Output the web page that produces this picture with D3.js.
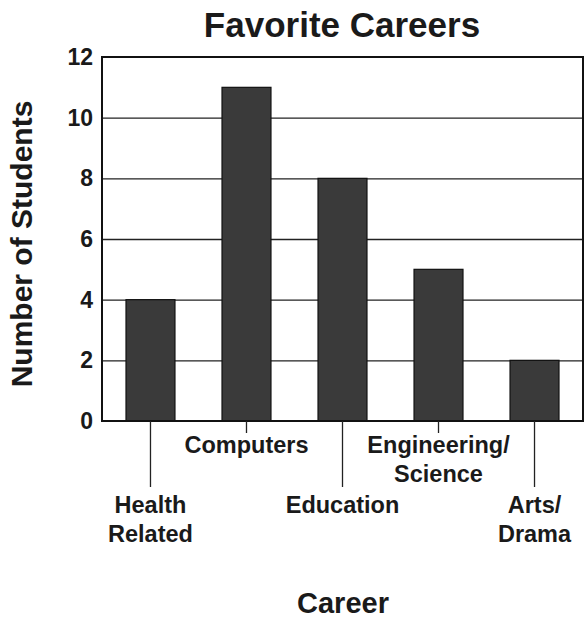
<!DOCTYPE html>
<html>
<head>
<meta charset="utf-8">
<script src="https://cdn.jsdelivr.net/npm/d3@7"></script>
<style>
  body { margin: 0; background: #fff; }
  svg text { font-family: "Liberation Sans", Arial, sans-serif; font-weight: bold; fill: #1a1a1a; }
</style>
</head>
<body>
<div id="chart"></div>
<script>
// values
const careers = ['Health Related', 'Computers', 'Education', 'Engineering/Science', 'Arts/Drama']
const careerLines = [['Health', 'Related'], ['Computers'], ['Education'], ['Engineering/', 'Science'], ['Arts/', 'Drama']]
const students = [4, 11, 8, 5, 2]
const yTicks = [0, 2, 4, 6, 8, 10, 12]

const margin = { top: 57, bottom: 198, right: 1, left: 102 }
const width = 584 - margin.left - margin.right
const height = 619 - margin.top - margin.bottom

const svg = d3.select('#chart').append('svg')
    .attr('width', 584)
    .attr('height', 619)

svg.append('text')
    .attr('x', 342)
    .attr('y', 37)
    .attr('text-anchor', 'middle')
    .style('font-size', '35px')
    .text('Favorite Careers')

svg.append('text')
    .attr('transform', 'translate(32, 244) rotate(-90)')
    .attr('text-anchor', 'middle')
    .style('font-size', '30px')
    .text('Number of Students')

svg.append('text')
    .attr('x', 343)
    .attr('y', 613)
    .attr('text-anchor', 'middle')
    .style('font-size', '29px')
    .text('Career')

const g = svg.append('g')
    .attr('transform', `translate(${margin.left}, ${margin.top})`)

const x = d3.scaleBand()
    .domain(careers)
    .range([0, width])
    .paddingInner(0.49)
    .paddingOuter(0.25)

const y = d3.scaleLinear()
    .domain([0, 12])
    .range([height, 0])

// grid lines
g.append('g')
    .call(d3.axisLeft(y).tickValues(yTicks.slice(1, -1)).tickSize(-width).tickFormat(''))
    .call(a => a.select('.domain').remove())
    .selectAll('line')
        .attr('stroke', '#222')
        .attr('stroke-width', 1.4)

// bars
g.selectAll('rect.bar').data(careers)
  .enter()
    .append('rect')
        .attr('class', 'bar')
        .attr('x', d => x(d))
        .attr('y', (d, i) => y(students[i]))
        .attr('width', x.bandwidth())
        .attr('height', (d, i) => y(0) - y(students[i]))
        .attr('fill', '#3a3a3a')
        .attr('stroke', '#111')
        .attr('stroke-width', 1.2)

// frame
g.append('rect')
    .attr('width', width)
    .attr('height', height)
    .attr('fill', 'none')
    .attr('stroke', '#111')
    .attr('stroke-width', 2)

// y axis labels
g.append('g')
    .call(d3.axisLeft(y).tickValues(yTicks).tickSize(0).tickPadding(9))
    .call(a => a.select('.domain').remove())
    .selectAll('text')
        .style('font-size', '23px')
        .attr('fill', '#1a1a1a')

// x axis: alternating short and long ticks
const shortTick = 12
const longTick = 66
const lineGap = 29
const xAxis = g.append('g')
    .attr('transform', `translate(0, ${height})`)
    .call(d3.axisBottom(x).tickSize(0).tickFormat(''))
xAxis.select('.domain').remove()

const tick = xAxis.selectAll('.tick')
tick.select('line')
    .attr('y2', (d, i) => i % 2 ? shortTick : longTick)
    .attr('stroke', '#222')
    .attr('stroke-width', 1.3)
tick.select('text').remove()
tick.append('text')
    .attr('text-anchor', 'middle')
    .attr('fill', '#1a1a1a')
    .style('font-size', '23.5px')
    .attr('y', (d, i) => i % 2 ? 32 : 92)
    .each(function (d, i) {
        d3.select(this).selectAll('tspan').data(careerLines[i])
          .enter()
            .append('tspan')
                .attr('x', 0)
                .attr('dy', (t, j) => j ? lineGap : 0)
                .text(t => t)
    })
</script>
</body>
</html>
